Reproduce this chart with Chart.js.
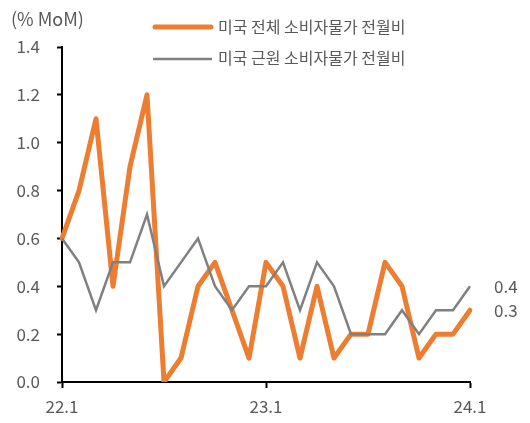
<!DOCTYPE html>
<html>
<head>
<meta charset="utf-8">
<script src="https://cdn.jsdelivr.net/npm/chart.js@4"></script>
<style>
  html, body { margin: 0; padding: 0; background: #fff; }
  #wrap { width: 530px; height: 423px; position: relative; }
</style>
</head>
<body>
<div id="wrap"><canvas id="cpiChart"></canvas></div>
<script>
// months 22.1 ~ 24.1
const months = [
  "22.1", "22.2", "22.3", "22.4", "22.5", "22.6", "22.7", "22.8", "22.9", "22.10", "22.11", "22.12",
  "23.1", "23.2", "23.3", "23.4", "23.5", "23.6", "23.7", "23.8", "23.9", "23.10", "23.11", "23.12",
  "24.1"
];
const shownLabels = ["22.1", "23.1", "24.1"];

const headlineCpi = [0.6, 0.8, 1.1, 0.4, 0.9, 1.2, 0.0, 0.1, 0.4, 0.5, 0.3, 0.1,
                     0.5, 0.4, 0.1, 0.4, 0.1, 0.2, 0.2, 0.5, 0.4, 0.1, 0.2, 0.2, 0.3];
const coreCpi = [0.6, 0.5, 0.3, 0.5, 0.5, 0.7, 0.4, 0.5, 0.6, 0.4, 0.3, 0.4,
                 0.4, 0.5, 0.3, 0.5, 0.4, 0.2, 0.2, 0.2, 0.3, 0.2, 0.3, 0.3, 0.4];

const seriesNames = ["미국 전체 소비자물가 전월비", "미국 근원 소비자물가 전월비"];
const unitLabel = "(% MoM)";

const ORANGE = "#ED7D31";
const GRAY = "#808080";
const TEXT = "#595959";
const FONT = "'Noto Sans CJK KR', 'Noto Sans', sans-serif";

// legend, unit and end-value labels
const extrasPlugin = {
  id: "extras",
  afterDraw(chart) {
    const ctx = chart.ctx;
    const y = chart.scales.y;
    ctx.save();
    ctx.fillStyle = TEXT;
    ctx.textBaseline = "middle";
    ctx.font = "18px " + FONT;
    ctx.fillText(unitLabel, 11, 19);

    // legend
    ctx.font = "16px " + FONT;
    ctx.lineCap = "round";
    ctx.strokeStyle = ORANGE;
    ctx.lineWidth = 5;
    ctx.beginPath(); ctx.moveTo(155, 27); ctx.lineTo(211, 27); ctx.stroke();
    ctx.strokeStyle = GRAY;
    ctx.lineWidth = 2.5;
    ctx.lineCap = "butt";
    ctx.beginPath(); ctx.moveTo(153, 59); ctx.lineTo(212, 59); ctx.stroke();
    ctx.fillText(seriesNames[0], 218, 27);
    ctx.fillText(seriesNames[1], 218, 58);

    // last values
    ctx.font = "17px " + FONT;
    const lastCore = coreCpi[coreCpi.length - 1];
    const lastHead = headlineCpi[headlineCpi.length - 1];
    ctx.fillText(lastCore.toFixed(1), 494, y.getPixelForValue(lastCore));
    ctx.fillText(lastHead.toFixed(1), 494, y.getPixelForValue(lastHead));
    ctx.restore();
  }
};

new Chart(document.getElementById("cpiChart"), {
  type: "line",
  data: {
    labels: months,
    datasets: [
      {
        label: seriesNames[1],
        data: coreCpi,
        borderColor: GRAY,
        borderWidth: 2.5,
        pointRadius: 0,
        tension: 0,
        borderJoinStyle: "miter"
      },
      {
        label: seriesNames[0],
        data: headlineCpi,
        borderColor: ORANGE,
        borderWidth: 5,
        pointRadius: 0,
        tension: 0,
        borderJoinStyle: "round",
        borderCapStyle: "round"
      }
    ]
  },
  options: {
    responsive: true,
    maintainAspectRatio: false,
    animation: false,
    layout: { padding: { top: 47, right: 60, left: 0, bottom: 0 } },
    plugins: {
      legend: { display: false },
      tooltip: { enabled: false }
    },
    scales: {
      x: {
        offset: false,
        grid: {
          drawOnChartArea: false,
          tickLength: 6,
          tickWidth: 2,
          tickColor: (c) => shownLabels.includes(months[c.index]) ? "#000" : "rgba(0,0,0,0)"
        },
        border: { color: "#000", width: 2 },
        ticks: {
          autoSkip: false,
          maxRotation: 0,
          padding: 8,
          color: TEXT,
          font: { family: FONT, size: 17 },
          callback: (v, i) => shownLabels.includes(months[i]) ? months[i] : ""
        },
        afterFit: (s) => { s.height = 41; }
      },
      y: {
        min: 0,
        max: 1.4,
        grid: {
          drawOnChartArea: false,
          tickLength: 5,
          tickWidth: 2,
          tickColor: "#000"
        },
        border: { color: "#000", width: 2 },
        ticks: {
          stepSize: 0.2,
          padding: 17,
          color: TEXT,
          font: { family: FONT, size: 17 },
          callback: (v) => v.toFixed(1)
        },
        afterFit: (s) => { s.width = 62; }
      }
    }
  },
  plugins: [extrasPlugin]
});
</script>
</body>
</html>
